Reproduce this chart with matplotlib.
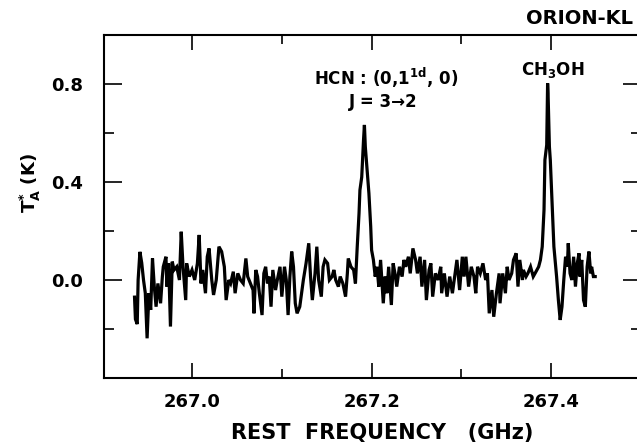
import matplotlib
matplotlib.use("Agg")
import matplotlib.pyplot as plt
from matplotlib.ticker import FixedLocator

# Spectrum (GHz, K)
freq = [
    266.936, 266.937, 266.939, 266.940, 266.942, 266.944, 266.946, 266.948, 266.950, 266.952,
    266.954, 266.956, 266.958, 266.960, 266.962, 266.965, 266.967, 266.968, 266.971, 266.972,
    266.974, 266.976, 266.978, 266.980, 266.983, 266.986, 266.988, 266.990, 266.993, 266.994,
    266.997, 267.000, 267.003, 267.006, 267.008, 267.010, 267.012, 267.015, 267.017, 267.019,
    267.022, 267.024, 267.027, 267.030, 267.033, 267.036, 267.038, 267.041, 267.043, 267.046,
    267.048, 267.051, 267.054, 267.057, 267.060, 267.062, 267.065, 267.068, 267.069, 267.071,
    267.073, 267.075, 267.078, 267.080, 267.082, 267.084, 267.086, 267.088, 267.090, 267.093,
    267.095, 267.098, 267.100, 267.103, 267.105, 267.107, 267.109, 267.111, 267.113, 267.115,
    267.117, 267.120, 267.122, 267.124, 267.127, 267.130, 267.132, 267.134, 267.137, 267.139,
    267.141, 267.144, 267.146, 267.148, 267.151, 267.153, 267.156, 267.158, 267.160, 267.163,
    267.165, 267.168, 267.171, 267.173, 267.174, 267.177, 267.180, 267.182, 267.184, 267.186,
    267.187, 267.189, 267.191, 267.192, 267.193, 267.195, 267.197, 267.199, 267.200, 267.202,
    267.204, 267.206, 267.208, 267.210, 267.213, 267.215, 267.217, 267.219, 267.222, 267.224,
    267.226, 267.228, 267.231, 267.234, 267.236, 267.238, 267.241, 267.243, 267.246, 267.249,
    267.251, 267.254, 267.256, 267.259, 267.261, 267.264, 267.266, 267.268, 267.271, 267.274,
    267.277, 267.278, 267.281, 267.284, 267.287, 267.290, 267.293, 267.295, 267.298, 267.301,
    267.303, 267.305, 267.308, 267.311, 267.314, 267.316, 267.318, 267.321, 267.324, 267.327,
    267.329, 267.331, 267.334, 267.336, 267.339, 267.342, 267.343, 267.346, 267.349, 267.351,
    267.353, 267.356, 267.358, 267.361, 267.363, 267.365, 267.368, 267.369, 267.372, 267.374,
    267.377, 267.380, 267.382, 267.386, 267.388, 267.390, 267.392, 267.393, 267.395, 267.396,
    267.3965, 267.398, 267.399, 267.401, 267.403, 267.406, 267.408, 267.410, 267.412, 267.414,
    267.416, 267.418, 267.419, 267.421, 267.423, 267.425, 267.427, 267.429, 267.431, 267.432,
    267.434, 267.436, 267.438, 267.440, 267.442, 267.444, 267.445, 267.447, 267.449,
]
temp = [
    -0.07, -0.16, -0.18, 0.00, 0.115, 0.07, 0.00, -0.054, -0.238, -0.054,
    -0.122, 0.088, -0.027, -0.109, -0.014, -0.095, 0.014, 0.054, 0.095, -0.027,
    0.068, -0.19, 0.075, 0.041, 0.054, 0.00, 0.197, 0.054, -0.082, 0.068,
    0.014, 0.041, 0.00, 0.068, 0.184, -0.014, 0.041, -0.054, 0.095, 0.129,
    0.00, -0.061, 0.00, 0.136, 0.116, 0.054, -0.082, 0.00, -0.014, 0.034,
    -0.054, 0.027, 0.00, -0.014, 0.088, 0.014, -0.014, -0.041, -0.136, 0.041,
    0.014, -0.054, -0.143, 0.027, 0.054, -0.014, 0.014, -0.109, 0.041, -0.041,
    0.00, 0.054, -0.068, 0.054, 0.00, -0.143, 0.014, 0.116, 0.054, -0.095,
    -0.136, -0.109, -0.054, 0.00, 0.068, 0.150, 0.014, -0.082, 0.027, 0.136,
    0.00, -0.068, 0.054, 0.082, 0.068, 0.00, 0.014, 0.041, 0.00, -0.027,
    0.014, -0.014, -0.068, 0.027, 0.088, 0.054, 0.041, -0.014, 0.136, 0.272,
    0.367, 0.42, 0.571, 0.633, 0.544, 0.449, 0.354, 0.218, 0.122, 0.082,
    0.014, 0.054, -0.027, 0.082, -0.095, 0.014, -0.054, 0.054, -0.102, 0.068,
    0.027, -0.027, 0.054, 0.014, 0.082, 0.054, 0.095, 0.027, 0.129, 0.082,
    0.027, 0.095, -0.027, 0.082, -0.082, 0.041, 0.068, -0.068, 0.027, 0.00,
    0.054, -0.054, 0.027, -0.068, 0.014, -0.054, 0.027, 0.082, -0.041, 0.095,
    0.014, 0.095, -0.027, 0.054, 0.014, -0.054, 0.054, 0.027, 0.068, 0.00,
    0.027, -0.136, -0.041, -0.150, -0.054, 0.027, -0.095, 0.027, -0.054, 0.054,
    0.00, 0.027, 0.082, 0.109, -0.027, 0.082, 0.00, 0.041, 0.014, 0.027,
    0.054, 0.014, 0.027, 0.054, 0.082, 0.136, 0.286, 0.490, 0.551, 0.803,
    0.762, 0.544, 0.490, 0.313, 0.136, 0.014, -0.082, -0.163, -0.109, 0.00,
    0.095, 0.054, 0.150, 0.027, 0.00, 0.095, -0.027, 0.068, 0.109, 0.014,
    0.082, -0.082, -0.109, 0.054, 0.116, 0.027, 0.054, 0.014, 0.014,
]

x_major = [267.0, 267.2, 267.4]
x_minor = [267.1, 267.3]
x_labels = ["267.0", "267.2", "267.4"]
y_major = [0.0, 0.4, 0.8]
y_minor = [-0.2, 0.2, 0.6]
y_labels = ["0.0", "0.4", "0.8"]

W, H = 637, 447
fig = plt.figure(figsize=(W / 100, H / 100), dpi=100)
ax = fig.add_axes([104 / W, (H - 378) / H, 537 / W, 343 / H])

ax.plot(freq, temp, color="black", lw=2.3, solid_joinstyle="miter")
ax.set_xlim(266.902, 267.500)
ax.set_ylim(-0.4, 1.0)

ax.xaxis.set_major_locator(FixedLocator(x_major))
ax.xaxis.set_minor_locator(FixedLocator(x_minor))
ax.set_xticklabels(x_labels)
ax.yaxis.set_major_locator(FixedLocator(y_major))
ax.yaxis.set_minor_locator(FixedLocator(y_minor))
ax.set_yticklabels(y_labels)

for s in ax.spines.values():
    s.set_linewidth(1.5)
ax.tick_params(axis="x", which="major", direction="in", length=11, width=1.2,
               top=True, bottom=True, pad=11, labelsize=13)
ax.tick_params(axis="x", which="minor", direction="in", length=6.5, width=1.2,
               top=True, bottom=True)
ax.tick_params(axis="y", which="major", direction="in", length=13, width=1.2,
               left=True, right=True, pad=15, labelsize=13)
ax.tick_params(axis="y", which="minor", direction="in", length=7, width=1.2,
               left=True, right=True)
for lab in ax.get_xticklabels() + ax.get_yticklabels():
    lab.set_fontweight("bold")

def ftext(x, y, s, **kw):
    fig.text(x / W, 1 - y / H, s, ha="center", va="center", fontweight="bold", **kw)

ftext(382, 433, "REST  FREQUENCY   (GHz)", fontsize=15)
ftext(30, 183, r"T$_\mathbf{A}^\mathbf{*}$ (K)", fontsize=13, rotation=90)
ftext(386, 78, r"HCN : (0,1$^\mathbf{1d}$, 0)", fontsize=12)
ftext(383, 102, "J = 3\u21922", fontsize=12)
ftext(553, 70, r"CH$_\mathbf{3}$OH", fontsize=12)
fig.text(633 / W, 1 - 18 / H, "ORION-KL", ha="right", va="center",
         fontweight="bold", fontsize=14)

fig.savefig("out.png", dpi=100)
